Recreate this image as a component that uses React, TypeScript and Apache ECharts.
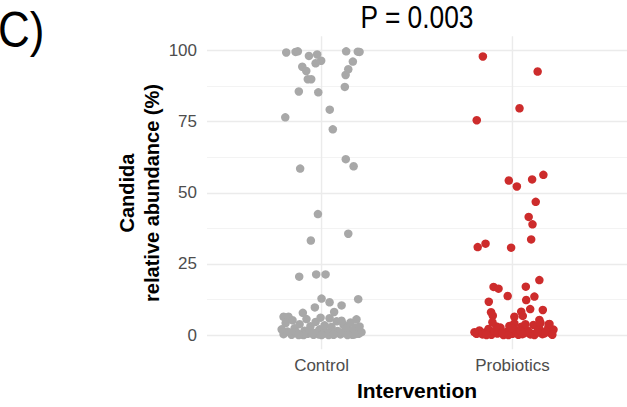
import React, { useEffect, useRef } from "react";
import * as echarts from "echarts";

const categories = ["Control", "Probiotics"];
const yTicks = [0, 25, 50, 75, 100];

// jitter offsets (category units) and relative abundance values (%)
const controlJitter = [
  -0.185, -0.136, -0.124, -0.066, -0.023, -0.002, -0.031, 0.129, 0.19, 0.199, 0.164,
  -0.101, -0.08, 0.14, 0.126, -0.072, -0.054, -0.119, -0.017, 0.122, 0.043, -0.19,
  0.059, 0.127, 0.168, -0.112, -0.019, 0.14, -0.056, -0.117, -0.028, 0.021, 0.0,
  0.042, 0.192, -0.035, 0.105, -0.098, 0.066, -0.199, -0.173,
  -0.199, -0.178, -0.157, -0.141, -0.126, -0.105, -0.089, -0.073, -0.058, -0.042,
  -0.026, -0.01, 0.005, 0.021, 0.037, 0.052, 0.068, 0.084, 0.099, 0.115, 0.131,
  0.147, 0.162, 0.178, 0.194, 0.209,
  -0.188, -0.162, -0.136, -0.115, -0.094, -0.063, -0.031, -0.016, 0.016, 0.031,
  0.058, 0.079, 0.094, 0.126, 0.152, 0.173, 0.199, -0.152, -0.079, 0.042, 0.105,
  -0.047, 0.0, 0.063, 0.136, -0.209, 0.183, -0.12, -0.005,
];
const controlValues = [
  99.3, 99.5, 99.7, 98.1, 98.6, 96.4, 95.5, 99.7, 99.6, 99.5, 96.1,
  94.3, 92.8, 93.4, 91.4, 89.9, 89.9, 85.6, 85.3, 87.2, 79.2, 76.5,
  72.3, 61.8, 59.3, 58.5, 42.5, 35.6, 33.2, 20.5, 21.3, 21.3, 12.8,
  11.5, 12.6, 9.7, 10.4, 7.8, 8.1, 6.4, 6.4,
  0.3, 1.2, 0.1, 2.4, 0.6, 0.2, 1.5, 0.4, 3.1, 0.1,
  0.9, 2.0, 0.3, 1.1, 0.0, 2.8, 0.5, 1.4, 0.2, 3.6, 0.7,
  1.8, 0.1, 2.6, 0.4, 1.0,
  4.2, 0.8, 1.0, 3.8, 0.0, 1.9, 4.6, 0.2, 3.4, 0.5,
  1.3, 4.8, 0.9, 2.2, 4.4, 0.2, 3.0, 5.2, 5.6, 5.9, 5.0,
  0.6, 0.0, 0.1, 0.0, 2.0, 5.5, 0.0, 6.1,
];

const probioticsJitter = [
  -0.155, 0.132, 0.037, -0.187, -0.019, 0.023, 0.103, 0.162, 0.122, 0.085, 0.105,
  0.098, -0.182, -0.141, -0.007, 0.141, -0.099, -0.073, 0.07, -0.025, 0.115, -0.124,
  0.072, -0.112, -0.103, 0.093, 0.159, 0.046, 0.01, 0.054, 0.141, 0.19,
  -0.188, -0.173, -0.157, -0.141, -0.126, -0.11, -0.094, -0.079, -0.063, -0.047,
  -0.031, -0.016, 0.0, 0.016, 0.031, 0.047, 0.063, 0.079, 0.094, 0.11, 0.126,
  0.141, 0.157, 0.173, 0.188, 0.204, 0.215,
  -0.199, -0.136, -0.084, -0.052, -0.021, 0.01, 0.042, 0.068, 0.089, 0.115, 0.147,
  0.168, 0.194, 0.209, -0.005, 0.052, 0.131, -0.105,
];
const probioticsValues = [
  97.9, 92.6, 79.7, 75.5, 54.3, 52.2, 54.7, 56.3, 46.8, 41.5, 38.9,
  33.6, 30.9, 32.1, 30.7, 19.3, 16.9, 16.3, 17.0, 13.7, 13.5, 11.7,
  12.3, 8.0, 6.8, 9.1, 8.8, 8.2, 6.4, 6.7, 5.3, 3.8,
  0.4, 1.6, 0.2, 0.9, 2.1, 0.1, 1.3, 0.5, 2.6, 0.0,
  1.1, 3.2, 0.4, 1.8, 0.1, 2.9, 0.7, 1.5, 0.2, 3.5, 0.8,
  2.2, 0.3, 1.2, 2.7, 0.5, 1.9,
  1.0, 0.0, 3.0, 0.6, 0.0, 4.1, 1.4, 3.8, 0.9, 0.0, 4.3,
  0.6, 3.9, 0.1, 2.4, 0.3, 1.0, 4.5,
];

const colors = ["#A8A8A8", "#CD2C2C"];
const FONT = "'Liberation Sans', Arial, Helvetica, sans-serif";

export default function App() {
  const ref = useRef<HTMLDivElement>(null);
  useEffect(() => {
    if (!ref.current) return;
    const chart = echarts.init(ref.current, undefined, { renderer: "svg" });
    const groups = [
      { jitter: controlJitter, values: controlValues },
      { jitter: probioticsJitter, values: probioticsValues },
    ];
    const scatterSeries = groups.map((g, i) => ({
      type: "scatter",
      name: categories[i],
      data: g.values.map((v, k) => [i + 1 + g.jitter[k], v]),
      symbolSize: 8.5,
      itemStyle: { color: colors[i], opacity: 1 },
      clip: false,
      z: 5,
      silent: true,
    }));
    const vLines = categories.map((_, i) => ({
      type: "line",
      data: [
        [i + 1, -5],
        [i + 1, 105],
      ],
      symbol: "none",
      clip: false,
      lineStyle: { color: "#EBEBEB", width: 1.4 },
      z: 1,
      silent: true,
    }));
    chart.setOption({
      animation: false,
      grid: { left: 207, right: 0, top: 50.5, bottom: 72, containLabel: false },
      xAxis: {
        type: "value",
        min: 0.4,
        max: 2.6,
        axisLine: { show: false },
        axisTick: { show: false },
        splitLine: { show: false },
        axisLabel: {
          customValues: [1, 2],
          formatter: (v: number) => categories[Math.round(v) - 1] ?? "",
          color: "#4D4D4D",
          fontSize: 17,
          fontFamily: FONT,
          margin: 22,
        },
      },
      yAxis: {
        type: "value",
        min: 0,
        max: 100,
        interval: 25,
        axisLine: { show: false },
        axisTick: { show: false },
        axisLabel: {
          color: "#4D4D4D",
          fontSize: 17,
          fontFamily: FONT,
          margin: 10,
          customValues: yTicks,
        },
        splitLine: { show: true, lineStyle: { color: "#EBEBEB", width: 1.4 } },
        minorTick: { show: false, splitNumber: 2 },
        minorSplitLine: { show: true, lineStyle: { color: "#F0F0F0", width: 0.8 } },
      },
      series: [...vLines, ...scatterSeries],
      graphic: [
        {
          type: "text",
          x: -2,
          y: 29,
          scaleX: 0.88,
          style: {
            text: "C)",
            font: `50px ${FONT}`,
            fill: "#000",
            textAlign: "left",
            verticalAlign: "middle",
          },
        },
        {
          type: "text",
          x: 417,
          y: 17,
          scaleX: 0.85,
          style: {
            text: "P = 0.003",
            font: `31px ${FONT}`,
            fill: "#000",
            textAlign: "center",
            verticalAlign: "middle",
          },
        },
        {
          type: "text",
          x: 139,
          y: 193,
          rotation: Math.PI / 2,
          style: {
            text: "Candida\nrelative abundance (%)",
            font: `bold 20px ${FONT}`,
            lineHeight: 25,
            fill: "#000",
            textAlign: "center",
            verticalAlign: "middle",
          },
        },
        {
          type: "text",
          x: 417,
          y: 390,
          style: {
            text: "Intervention",
            font: `bold 21px ${FONT}`,
            fill: "#000",
            textAlign: "center",
            verticalAlign: "middle",
          },
        },
      ],
    });
    return () => chart.dispose();
  }, []);
  return <div ref={ref} style={{ width: 627, height: 407, position: "absolute", left: 0, top: 0 }} />;
}
